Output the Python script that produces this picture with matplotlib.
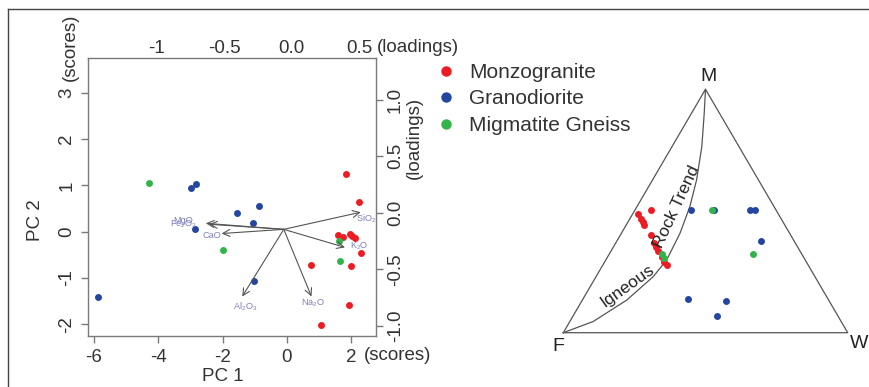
import numpy as np
import matplotlib
matplotlib.use("Agg")
import matplotlib.pyplot as plt
from matplotlib.lines import Line2D

plt.rcParams['font.family'] = ['Liberation Sans', 'DejaVu Sans']
plt.rcParams['mathtext.default'] = 'regular'

# --- PCA biplot data (scores) ---
pc1_mz = [1.84, 2.24, 1.58, 1.74, 1.95, 2.03, 2.10, 2.31, 0.75, 2.00, 1.93, 1.05]
pc2_mz = [1.25, 0.63, -0.08, -0.12, -0.06, -0.10, -0.14, -0.47, -0.71, -0.75, -1.59, -2.02]
pc1_gd = [-2.82, -2.99, -0.86, -1.54, -1.05, -2.85, -1.01, -5.87]
pc2_gd = [1.03, 0.94, 0.55, 0.40, 0.19, 0.05, -1.06, -1.40]
pc1_mg = [-4.30, -2.00, 1.60, 1.64]
pc2_mg = [1.04, -0.40, -0.20, -0.64]

# loading arrows, drawn in score units
var_names = ['SiO$_2$', 'K$_2$O', 'Na$_2$O', 'Al$_2$O$_3$', 'CaO', 'MgO', 'Fe$_2$O$_3$']
arrow_x = [2.29, 1.80, 0.76, -1.39, -2.03, -2.52, -2.42]
arrow_y = [0.42, -0.34, -1.40, -1.40, -0.04, 0.18, 0.16]
arrow_origin = (-0.10, 0.05)

# --- MFW ternary data (percent M and W, F = rest) ---
mz_M = [50.4, 48.7, 46.6, 45.3, 44.3, 40.2, 36.9, 35.3, 33.6, 31.2, 29.2, 27.8]
mz_W = [5.5, 2.0, 4.0, 5.2, 6.3, 10.6, 13.4, 15.0, 16.6, 19.0, 20.9, 22.7]
gd_M = [50.4, 50.4, 50.4, 50.4, 37.6, 13.8, 13.0, 7.0]
gd_W = [19.6, 27.8, 40.4, 42.3, 50.6, 36.8, 50.6, 50.7]
mg_M = [32.2, 30.6, 50.4, 32.5]
mg_W = [18.7, 20.1, 27.0, 50.4]

trend_M = [0, 4.6, 13.4, 23.0, 29.9, 40.9, 51.8, 62.7, 76.4, 90.1, 100]
trend_W = [0, 8.2, 15.6, 20.1, 21.4, 20.6, 18.6, 15.5, 10.5, 4.5, 0]

groups = ['Monzogranite', 'Granodiorite', 'Migmatite Gneiss']
colors = ['#ec1c24', '#2446a0', '#33b44a']

W_PX, H_PX = 869, 387


def px(x, y):
    return x / W_PX, 1 - y / H_PX


def tern(M, W):
    M = np.asarray(M) / 100.0
    W = np.asarray(W) / 100.0
    return W + 0.5 * M, M * np.sqrt(3) / 2


fig = plt.figure(figsize=(8.69, 3.87), dpi=100)
fig.patch.set_facecolor('white')

# frame lines of the panel
fig.add_artist(Line2D([8.3 / W_PX, 1], [1 - 9.3 / H_PX] * 2, transform=fig.transFigure, color='#444444', lw=1.0))
fig.add_artist(Line2D([8.3 / W_PX] * 2, [0, 1 - 9.3 / H_PX], transform=fig.transFigure, color='#444444', lw=1.0))

# ===== Biplot =====
ax = fig.add_axes([88 / W_PX, 1 - 336 / H_PX, (376 - 88) / W_PX, (336 - 58) / H_PX])
ax.set_xlim(-6.18, 2.764)
ax.set_ylim(-2.252, 3.748)
tick_col = '#333333'
frame_col = '#7a7a7a'
for s in ax.spines.values():
    s.set_color(frame_col)
    s.set_linewidth(1.0)

ax.set_xticks([-6, -4, -2, 0, 2])
ax.set_xticklabels(['-6', '-4', '-2', '0', '2'])
ax.set_yticks([-2, -1, 0, 1, 2, 3])
ax.set_yticklabels(['-2', '-1', '0', '1', '2', '3'])
ax.tick_params(colors=frame_col, labelcolor=tick_col, labelsize=13.5, length=5, width=1, pad=4)
for lbl in ax.get_yticklabels():
    lbl.set_rotation(90)
    lbl.set_va('center')

ax.scatter(pc1_mz, pc2_mz, s=25, color=colors[0], zorder=3, linewidths=0)
ax.scatter(pc1_gd, pc2_gd, s=25, color=colors[1], zorder=3, linewidths=0)
ax.scatter(pc1_mg, pc2_mg, s=25, color=colors[2], zorder=3, linewidths=0)

label_off = [(6, -7), (14, 1), (2, -7), (3, -10), (-10, -2), (-23, 3), (-26, 0)]
for name, xe, ye, off in zip(var_names, arrow_x, arrow_y, label_off):
    ax.annotate('', xy=(xe, ye), xytext=arrow_origin,
                arrowprops=dict(arrowstyle='->,head_length=0.5,head_width=0.25', color='#555555', lw=0.8,
                                shrinkA=0, shrinkB=0))
    ax.annotate(name, xy=(xe, ye), xytext=off, textcoords='offset pixels', ha='center', va='center',
                fontsize=6.6, color='#7f7fbf')

# top loadings axis
axt = ax.twiny()
axt.set_xlim(-1.507, 0.626)
axt.set_xticks([-1, -0.5, 0, 0.5])
axt.set_xticklabels(['-1', '-0.5', '0.0', '0.5'])
axt.tick_params(axis='x', length=0, labelsize=13.5, labelcolor=tick_col, pad=1)
for s in axt.spines.values():
    s.set_visible(False)

# right loadings axis
axr = ax.twinx()
axr.set_ylim(-1.091, 1.369)
axr.set_yticks([-1, -0.5, 0, 0.5, 1.0])
axr.set_yticklabels(['-1.0', '-0.5', '0.0', '0.5', '1.0'])
axr.tick_params(axis='y', colors=frame_col, labelcolor=tick_col, labelsize=13.5, length=5, width=1, pad=3)
for lbl in axr.get_yticklabels():
    lbl.set_rotation(90)
    lbl.set_va('center')
for s in axr.spines.values():
    s.set_visible(False)

fs = 13.5
fig.text(*px(222.7, 376.5), 'PC 1', fontsize=fs, color=tick_col, ha='center', va='center')
fig.text(*px(35, 220), 'PC 2', fontsize=fs, color=tick_col, ha='center', va='center', rotation=90)
fig.text(*px(364, 356), '(scores)', fontsize=fs, color=tick_col, ha='left', va='center')
fig.text(*px(70, 81), '(scores)', fontsize=fs, color=tick_col, ha='center', va='bottom', rotation=90)
fig.text(*px(376.5, 47), '(loadings)', fontsize=fs, color=tick_col, ha='left', va='center')
fig.text(*px(414, 138), '(loadings)', fontsize=fs, color=tick_col, ha='center', va='center', rotation=90)

# legend
handles = [Line2D([], [], ls='none', marker='o', ms=7.5, mfc=c, mec='none') for c in colors]
fig.legend(handles, groups, loc='center left', bbox_to_anchor=px(436, 99), frameon=False,
           fontsize=15, handlelength=1.0, handletextpad=0.6, labelspacing=0.36, borderpad=0,
           borderaxespad=0, labelcolor=tick_col)

# ===== MFW ternary =====
axm = fig.add_axes([563.3 / W_PX, 1 - 332.7 / H_PX, 284.4 / W_PX, 243.4 / H_PX])
axm.set_xlim(0, 1)
axm.set_ylim(0, np.sqrt(3) / 2)
axm.axis('off')
tri_x = [0, 1, 0.5, 0]
tri_y = [0, 0, np.sqrt(3) / 2, 0]
axm.plot(tri_x, tri_y, color='#555555', lw=0.9, clip_on=False)

tx, ty = tern(trend_M, trend_W)
axm.plot(tx, ty, color='#555555', lw=0.9, clip_on=False)

for M, W, c in [(mz_M, mz_W, colors[0]), (gd_M, gd_W, colors[1]), (mg_M, mg_W, colors[2])]:
    x, y = tern(M, W)
    axm.scatter(x, y, s=25, color=c, linewidths=0, zorder=3, clip_on=False)

axm.annotate('M', xy=(0.5, np.sqrt(3) / 2), xytext=(3, 13), textcoords='offset pixels',
             ha='center', va='center', fontsize=14, color='#222222')
axm.annotate('F', xy=(0, 0), xytext=(-5, -14), textcoords='offset pixels',
             ha='center', va='center', fontsize=14, color='#222222')
axm.annotate('W', xy=(1, 0), xytext=(11, -11), textcoords='offset pixels',
             ha='center', va='center', fontsize=14, color='#222222', annotation_clip=False)

fig.text(*px(627, 286), 'Igneous', fontsize=12.5, color='#222222', ha='center', va='center',
         rotation=35.4, rotation_mode='anchor')
fig.text(*px(677, 207), 'Rock Trend', fontsize=12.5, color='#222222', ha='center', va='center',
         rotation=65, rotation_mode='anchor')

fig.savefig('out.png', dpi=100, facecolor='white')
